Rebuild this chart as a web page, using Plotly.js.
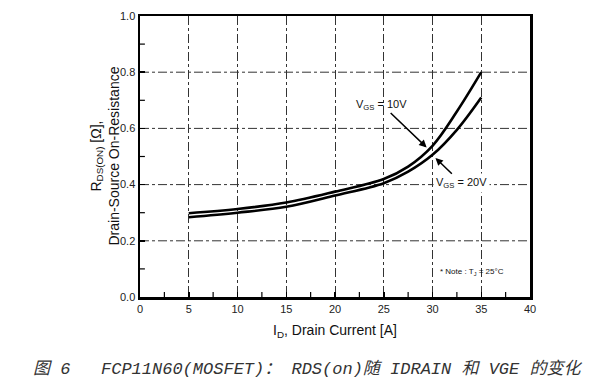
<!DOCTYPE html>
<html>
<head>
<meta charset="utf-8">
<script src="https://cdn.plot.ly/plotly-3.0.1.min.js"></script>
<style>html,body{margin:0;padding:0;background:#fff;}#chart{width:597px;height:385px;}</style>
</head>
<body>
<div id="chart"></div>
<script>
// Drain current [A]
const drainCurrent = [5, 10, 15, 20, 25, 27.5, 30, 32.5, 35];
// RDS(on) [Ohm] for VGS = 10V
const rdsVgs10 = [0.298, 0.313, 0.336, 0.375, 0.42, 0.464, 0.538, 0.66, 0.80];
// RDS(on) [Ohm] for VGS = 20V
const rdsVgs20 = [0.284, 0.300, 0.321, 0.361, 0.405, 0.446, 0.506, 0.595, 0.71];
const xTicks = [0, 5, 10, 15, 20, 25, 30, 35, 40];
const yTicks = [0.0, 0.2, 0.4, 0.6, 0.8, 1.0];
const yGridVals = [0.2, 0.4, 0.6, 0.8];
const xMinorTicks = [2.5, 7.5, 12.5, 17.5, 22.5, 27.5, 32.5, 37.5];
const yMinorTicks = [0.1, 0.3, 0.5, 0.7, 0.9];
const captionText = "图 6&nbsp;&nbsp;&nbsp;FCP11N60(MOSFET)： RDS(on)随 IDRAIN 和 VGE 的变化";

const xMin = xTicks[0], xMax = xTicks[xTicks.length - 1];
const yMin = yTicks[0], yMax = yTicks[yTicks.length - 1];

// horizontal grid lines built from the y tick values
const gridX = [], gridY = [];
yGridVals.forEach(v => { gridX.push(xMin, xMax, null); gridY.push(v, v, null); });

const lineStyle = {color: '#000', width: 2.6, shape: 'spline', smoothing: 1.0};
const traces = [
  {x: gridX, y: gridY, mode: 'lines', line: {color: '#333', width: 1, dash: 'dashdot'}, hoverinfo: 'skip', connectgaps: false},
  {x: xMinorTicks, y: xMinorTicks.map(() => yMin), mode: 'markers', hoverinfo: 'skip',
   marker: {symbol: 'line-ns', size: 7, line: {color: '#000', width: 1.2}}},
  {x: yMinorTicks.map(() => xMin), y: yMinorTicks, mode: 'markers', hoverinfo: 'skip',
   marker: {symbol: 'line-ew', size: 7, line: {color: '#000', width: 1.2}}},
  {x: drainCurrent, y: rdsVgs10, mode: 'lines', line: lineStyle, name: 'VGS = 10V', hoverinfo: 'skip'},
  {x: drainCurrent, y: rdsVgs20, mode: 'lines', line: lineStyle, name: 'VGS = 20V', hoverinfo: 'skip'}
];

const sans = 'Liberation Sans, Arial, sans-serif';
const tickFont = {family: sans, size: 11, color: '#222'};
const layout = {
  width: 597, height: 385,
  margin: {l: 140, r: 67, t: 16, b: 88},
  paper_bgcolor: '#fff', plot_bgcolor: '#fff',
  showlegend: false,
  xaxis: {
    range: [xMin, xMax], tickvals: xTicks, ticktext: xTicks.map(String),
    ticks: 'inside', ticklen: 5, tickwidth: 1.5, tickcolor: '#000',
    showline: true, linecolor: '#000', linewidth: 2.5, mirror: true,
    showgrid: true, gridcolor: '#333', gridwidth: 1, griddash: 'dashdot',
    zeroline: false, tickfont: tickFont,
    title: {text: 'I<sub>D</sub>, Drain Current [A]', font: {family: sans, size: 14, color: '#111'}, standoff: 12}
  },
  yaxis: {
    range: [yMin, yMax], tickvals: yTicks, ticktext: yTicks.map(v => v.toFixed(1)),
    ticks: 'inside', ticklen: 5, tickwidth: 1.5, tickcolor: '#000',
    showline: true, linecolor: '#000', linewidth: 2.5, mirror: true,
    showgrid: false,
    zeroline: false, tickfont: tickFont
  },
  annotations: [
    {x: 0, y: 0.5, xref: 'paper', yref: 'paper', xshift: -36, showarrow: false, textangle: -90,
     xanchor: 'center', yanchor: 'middle',
     text: 'R<sub>DS(ON)</sub> [Ω],<br>Drain-Source On-Resistance',
     font: {family: sans, size: 14, color: '#111'}},
    {x: 29.4, y: 0.532, xref: 'x', yref: 'y', ax: 24.8, ay: 0.685, axref: 'x', ayref: 'y',
     text: 'V<sub>GS</sub> = 10V', showarrow: true, arrowhead: 2, arrowsize: 1, arrowwidth: 1.5, arrowcolor: '#000',
     font: {family: sans, size: 11, color: '#111'}},
    {x: 30.3, y: 0.495, xref: 'x', yref: 'y', ax: 33.0, ay: 0.405, axref: 'x', ayref: 'y',
     text: 'V<sub>GS</sub> = 20V', showarrow: true, arrowhead: 2, arrowsize: 1, arrowwidth: 1.5, arrowcolor: '#000',
     bgcolor: '#fff', borderpad: 2,
     font: {family: sans, size: 11, color: '#111'}},
    {x: 34, y: 0.088, xref: 'x', yref: 'y', showarrow: false,
     text: '* Note : T<sub>J</sub> = 25°C',
     font: {family: sans, size: 8, color: '#111'}},
    {x: 0.43, y: 0, xref: 'paper', yref: 'paper', yshift: -72, showarrow: false,
     xanchor: 'center', yanchor: 'middle',
     text: '<i>' + captionText + '</i>',
     font: {family: 'Liberation Mono, Noto Sans CJK SC, monospace', size: 17, color: '#333'}}
  ]
};
Plotly.newPlot('chart', traces, layout, {staticPlot: true, displayModeBar: false});
</script>
</body>
</html>
